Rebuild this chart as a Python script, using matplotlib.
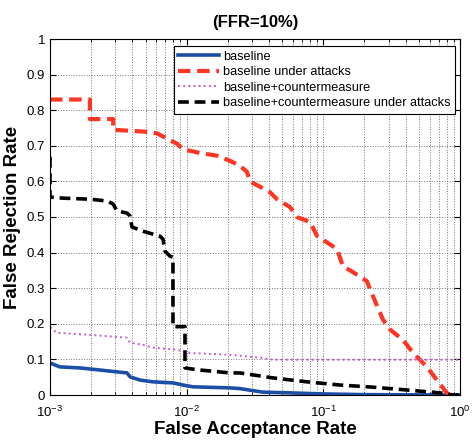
import numpy as np
import matplotlib
matplotlib.use("Agg")
import matplotlib.pyplot as plt
from matplotlib.ticker import LogLocator, FixedLocator, FuncFormatter

plt.rcParams['font.family'] = ['Liberation Sans', 'DejaVu Sans']

# baseline
base_far = [0.001, 0.00118, 0.00166, 0.00221, 0.00309, 0.00366, 0.00385, 0.00455,
            0.00566, 0.00794, 0.0094, 0.0111, 0.0207, 0.0245, 0.0361, 0.057, 0.1, 0.2, 1.0]
base_frr = [0.09, 0.079, 0.076, 0.071, 0.065, 0.062, 0.051, 0.042,
            0.037, 0.034, 0.028, 0.023, 0.02, 0.018, 0.008, 0.006, 0.003, 0.001, 0.0]

# baseline under attacks
att_far = [0.001, 0.00196, 0.00196, 0.0029, 0.0029, 0.0048, 0.00607, 0.0072, 0.0085,
           0.0094, 0.0125, 0.0167, 0.0207, 0.0245, 0.0276, 0.029, 0.0344, 0.0406,
           0.0458, 0.057, 0.064, 0.080, 0.0898, 0.106, 0.126, 0.139, 0.165, 0.208,
           0.231, 0.273, 0.307, 0.382, 0.452, 0.573, 0.677, 0.80, 0.85]
att_frr = [0.83, 0.83, 0.775, 0.775, 0.745, 0.74, 0.735, 0.72, 0.706,
           0.69, 0.68, 0.672, 0.658, 0.644, 0.627, 0.60, 0.585, 0.57,
           0.55, 0.528, 0.50, 0.486, 0.447, 0.429, 0.41, 0.362, 0.345, 0.32,
           0.277, 0.212, 0.184, 0.155, 0.119, 0.079, 0.042, 0.006, 0.0]

# baseline + countermeasure
cm_far = [0.001, 0.00105, 0.00112, 0.00196, 0.00366, 0.00385, 0.00479, 0.00566,
          0.0085, 0.01, 0.0106, 0.0207, 0.0361, 0.0428, 1.0]
cm_frr = [0.19, 0.184, 0.175, 0.169, 0.161, 0.147, 0.141, 0.133,
          0.127, 0.121, 0.118, 0.113, 0.104, 0.099, 0.099]

# baseline + countermeasure under attacks
cm_att_far = [0.001, 0.001, 0.00124, 0.00196, 0.00261, 0.00289, 0.00309, 0.00366,
              0.00385, 0.00398, 0.00479, 0.00638, 0.00671, 0.00694, 0.00755, 0.00794,
              0.00794, 0.00972, 0.00972, 0.0119, 0.0207, 0.0245, 0.0428, 0.0758,
              0.132, 0.231, 0.409, 0.713, 0.887, 1.0]
cm_att_frr = [0.669, 0.556, 0.553, 0.55, 0.545, 0.537, 0.517, 0.511,
              0.503, 0.472, 0.46, 0.446, 0.438, 0.404, 0.39, 0.387,
              0.192, 0.192, 0.076, 0.071, 0.062, 0.062, 0.048, 0.037,
              0.028, 0.022, 0.014, 0.006, 0.0, 0.0]

labels = ["baseline", "baseline under attacks", "baseline+countermeasure",
          "baseline+countermeasure under attacks"]
y_ticks = [0, 0.1, 0.2, 0.3, 0.4, 0.5, 0.6, 0.7, 0.8, 0.9, 1]

fig = plt.figure(figsize=(4.73, 4.41), dpi=100)
ax = fig.add_axes([50 / 473, 1 - 395 / 441, 410 / 473, 356 / 441])

ax.plot(base_far, base_frr, color="#1d4ea6", lw=2.6, label=labels[0])
ax.plot(att_far, att_frr, color="#ff3524", lw=3.0, dashes=(3, 1.6), label=labels[1])
ax.plot(cm_far, cm_frr, color="#c45fc4", lw=1.4, ls=":", label=labels[2])
ax.plot(cm_att_far, cm_att_frr, color="black", lw=2.6, dashes=(3, 1.6), label=labels[3])

ax.set_xscale("log")
ax.set_xlim(1e-3, 1)
ax.set_ylim(0, 1)
ax.xaxis.set_major_locator(LogLocator(base=10, numticks=10))
ax.xaxis.set_minor_locator(LogLocator(base=10, subs=np.arange(2, 10), numticks=10))
ax.yaxis.set_major_locator(FixedLocator(y_ticks))
ax.yaxis.set_major_formatter(FuncFormatter(lambda v, p: f"{v:g}"))

ax.grid(True, which="major", ls=":", color="0.45", lw=0.7)
ax.grid(True, which="minor", axis="x", ls=":", color="0.45", lw=0.7)
ax.tick_params(which="both", direction="in", top=True, right=True, labelsize=9.5)
ax.tick_params(which="major", length=4)
ax.tick_params(which="minor", length=2)
ax.tick_params(axis="x", which="major", pad=7)
for s in ax.spines.values():
    s.set_linewidth(0.8)

ax.set_title("(FFR=10%)", fontsize=12, fontweight="bold", pad=9)
ax.set_xlabel("False Acceptance Rate", fontsize=13.5, fontweight="bold", labelpad=1)
ax.set_ylabel("False Rejection Rate", fontsize=13.5, fontweight="bold", labelpad=4)

leg = ax.legend(loc="upper right", bbox_to_anchor=(0.988, 0.98), fontsize=9.2,
                fancybox=False, edgecolor="black", framealpha=1,
                handlelength=3.2, labelspacing=0.28, borderpad=0.35,
                handletextpad=0.3, borderaxespad=0)
leg.get_frame().set_linewidth(0.8)

fig.savefig("out.png", dpi=100)
